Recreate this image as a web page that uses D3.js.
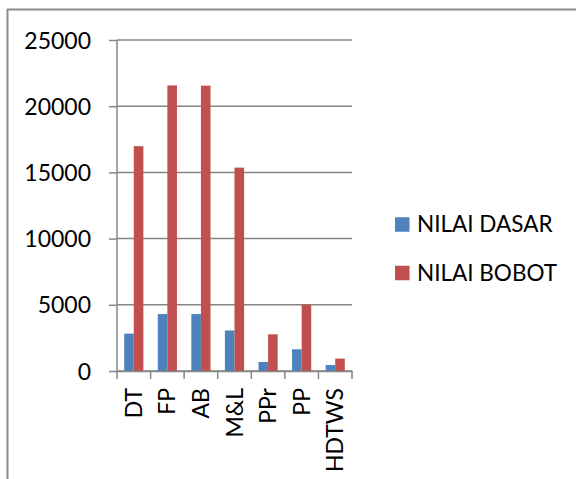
<!DOCTYPE html>
<html>
<head>
<meta charset="utf-8">
<script src="https://cdn.jsdelivr.net/npm/d3@7"></script>
<style>
  body { margin: 0; background: #fff; }
  text { font-family: Lato, "Open Sans", sans-serif; fill: #000; }
</style>
</head>
<body>
<div id="chart"></div>
<script>
const width = 576, height = 479;
const margin = { top: 40, right: 224, bottom: 108, left: 117 };

// data
const categories = ["DT", "FP", "AB", "M&L", "PPr", "PP", "HDTWS"];
const seriesNames = ["NILAI DASAR", "NILAI BOBOT"];
const nilaiDasar = [2820, 4300, 4300, 3060, 680, 1640, 450];
const nilaiBobot = [16980, 21570, 21550, 15360, 2770, 5010, 940];
const yTicks = [0, 5000, 10000, 15000, 20000, 25000];
const colors = ["#4F81BD", "#C0504D"];

const plotBottom = 371, plotRight = 352;

const svg = d3.select("#chart").append("svg")
  .attr("width", width).attr("height", height);

// outer frame (only top and left visible)
svg.append("line").attr("x1", 7).attr("x2", width).attr("y1", 9.5).attr("y2", 9.5)
  .attr("stroke", "#8c8c8c").attr("stroke-width", 2);
svg.append("line").attr("x1", 7.5).attr("x2", 7.5).attr("y1", 9).attr("y2", height)
  .attr("stroke", "#8c8c8c").attr("stroke-width", 2);

const x = d3.scaleBand().domain(categories).range([margin.left, plotRight]);
const y = d3.scaleLinear().domain([0, 25000]).range([plotBottom, margin.top]);

// gridlines + y axis
const yAxis = svg.append("g")
  .attr("transform", `translate(${margin.left},0)`)
  .call(d3.axisLeft(y).tickValues(yTicks).tickSize(8).tickPadding(18).tickFormat(d3.format("d")));
yAxis.select(".domain").remove();
yAxis.selectAll(".tick line").attr("stroke", "#868686").attr("stroke-width", 1.5);
yAxis.selectAll(".tick text").style("font-size", "23px").attr("dy", "0.35em");

svg.append("g").selectAll("line").data(yTicks).join("line")
  .attr("x1", margin.left).attr("x2", plotRight)
  .attr("y1", d => y(d)).attr("y2", d => y(d))
  .attr("stroke", "#868686").attr("stroke-width", 1.5);

svg.append("line").attr("x1", margin.left).attr("x2", margin.left)
  .attr("y1", margin.top).attr("y2", plotBottom)
  .attr("stroke", "#868686").attr("stroke-width", 1.5);

// bars
const inner = d3.scaleBand().domain(seriesNames).range([0, x.bandwidth()]).paddingOuter(0.75).paddingInner(0);
const rows = categories.map((c, i) => ({ c, vals: [nilaiDasar[i], nilaiBobot[i]] }));
svg.append("g").selectAll("g").data(rows).join("g")
  .attr("transform", d => `translate(${x(d.c)},0)`)
  .selectAll("rect").data(d => d.vals.map((v, j) => ({ v, s: seriesNames[j], j })))
  .join("rect")
  .attr("x", d => inner(d.s))
  .attr("width", inner.bandwidth())
  .attr("y", d => y(d.v))
  .attr("height", d => y(0) - y(d.v))
  .attr("fill", d => colors[d.j]);

// x axis
const xAxis = svg.append("g")
  .attr("transform", `translate(0,${plotBottom})`)
  .call(d3.axisBottom(x).tickSize(0).tickPadding(0));
xAxis.select(".domain").attr("stroke", "#868686").attr("stroke-width", 1.5);
xAxis.selectAll(".tick text")
  .style("font-size", "23px")
  .attr("text-anchor", "end")
  .attr("transform", "translate(0,17) rotate(-90)")
  .attr("x", 0).attr("y", 0).attr("dy", "0.35em");

// category boundary ticks
svg.append("g").selectAll("line")
  .data(categories.map(c => x(c)).concat([plotRight]))
  .join("line")
  .attr("x1", d => d).attr("x2", d => d)
  .attr("y1", plotBottom).attr("y2", plotBottom + 8)
  .attr("stroke", "#868686").attr("stroke-width", 1.5);

// legend
const legend = svg.append("g").selectAll("g").data(seriesNames).join("g")
  .attr("transform", (d, i) => `translate(395,${224.5 + i * 48.5})`);
legend.append("rect").attr("x", 0).attr("y", -7.25).attr("width", 14.5).attr("height", 14.5)
  .attr("fill", (d, i) => colors[i]);
legend.append("text").attr("x", 22).attr("dy", "0.35em")
  .style("font-size", "22.5px").text(d => d);
</script>
</body>
</html>
